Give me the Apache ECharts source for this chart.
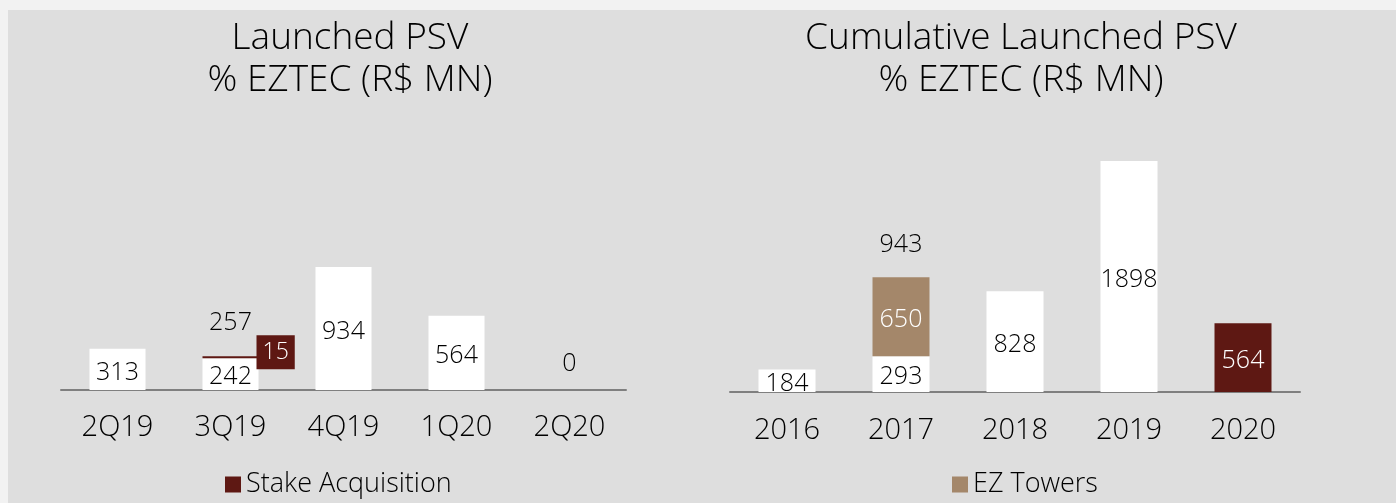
<!DOCTYPE html>
<html>
<head>
<meta charset="utf-8">
<script src="https://cdn.jsdelivr.net/npm/echarts@6/dist/echarts.min.js"></script>
<style>
  html, body { margin: 0; padding: 0; background: #f2f2f2; }
  #chart { width: 1396px; height: 503px; }
</style>
</head>
<body>
<div id="chart"></div>
<script>
// ---- Data ----
const quarterCats = ['2Q19', '3Q19', '4Q19', '1Q20', '2Q20'];
const quarterBase = [313, 242, 934, 564, 0];
const quarterStake = [null, 15, null, null, null];
const quarterTotal = [null, 257, null, null, null];

const yearCats = ['2016', '2017', '2018', '2019', '2020'];
const yearBase = [184, 293, 828, 1898, 564];
const yearTowers = [null, 650, null, null, null];
const yearTotal = [null, 943, null, null, null];

const leftTitle = 'Launched PSV\n% EZTEC (R$ MN)';
const rightTitle = 'Cumulative Launched PSV\n% EZTEC (R$ MN)';

// ---- Styles ----
const FONT = '"Open Sans", Lato';
const WEIGHT = 300;
const MAROON = '#5e1813';
const TAN = '#a4876a';
const WHITE = '#ffffff';

const chart = echarts.init(document.getElementById('chart'), null, { renderer: 'canvas' });

const insideLabel = (color) => ({
  show: true, position: 'inside', color: color, fontFamily: FONT, fontWeight: WEIGHT, fontSize: 25, offset: [0, 3]
});

const titleStyle = { fontFamily: FONT, fontSize: 37, fontWeight: WEIGHT, color: '#000', lineHeight: 42 };

const option = {
  backgroundColor: '#f2f2f2',
  animation: false,
  graphic: [{
    type: 'rect', z: -10, silent: true,
    shape: { x: 8, y: 10, width: 1388, height: 493 },
    style: { fill: '#dedede' }
  }],
  title: [
    { text: leftTitle, left: 350, top: 17, textAlign: 'center', padding: 0, textStyle: titleStyle },
    { text: rightTitle, left: 1021, top: 17, textAlign: 'center', padding: 0, textStyle: titleStyle }
  ],
  legend: [
    { data: ['Stake Acquisition'], left: 225, top: 471, padding: 0, icon: 'rect', itemWidth: 16, itemHeight: 16,
      itemGap: 5, textStyle: { fontFamily: FONT, fontWeight: WEIGHT, fontSize: 27, color: '#000' } },
    { data: ['EZ Towers'], left: 952, top: 471, padding: 0, icon: 'rect', itemWidth: 16, itemHeight: 16,
      itemGap: 5, textStyle: { fontFamily: FONT, fontWeight: WEIGHT, fontSize: 27, color: '#000' } }
  ],
  grid: [
    { left: 61, width: 565, top: 390 - 263.4, height: 263.4 },
    { left: 730, width: 570, top: 392 - 243.4, height: 243.4 }
  ],
  xAxis: [
    { type: 'category', gridIndex: 0, data: quarterCats,
      axisLine: { lineStyle: { color: '#7f7f7f', width: 2 } }, axisTick: { show: false },
      axisLabel: { margin: 23, fontFamily: FONT, fontWeight: WEIGHT, fontSize: 29, color: '#000' } },
    { type: 'category', gridIndex: 1, data: yearCats,
      axisLine: { lineStyle: { color: '#7f7f7f', width: 2 } }, axisTick: { show: false },
      axisLabel: { margin: 24, fontFamily: FONT, fontWeight: WEIGHT, fontSize: 29, color: '#000' } }
  ],
  yAxis: [
    { type: 'value', gridIndex: 0, min: 0, max: 2000, show: false },
    { type: 'value', gridIndex: 1, min: 0, max: 2000, show: false }
  ],
  series: [
    { name: 'Base Q', type: 'bar', xAxisIndex: 0, yAxisIndex: 0, stack: 'q', barWidth: 56,
      itemStyle: { color: WHITE },
      label: insideLabel('#000'),
      data: quarterBase.map((v) => v === 0
        ? { value: v, label: { position: 'top', distance: 14, offset: [0, 0] } }
        : v) },
    { name: 'Stake Acquisition', type: 'bar', xAxisIndex: 0, yAxisIndex: 0, stack: 'q', barWidth: 56,
      itemStyle: { color: MAROON },
      label: { show: true, position: 'right', distance: -2, offset: [0, -5], color: '#fff',
        fontFamily: FONT, fontWeight: WEIGHT, fontSize: 23, lineHeight: 22, backgroundColor: MAROON, padding: [6, 6] },
      data: quarterStake },
    { name: 'Total Q', type: 'bar', xAxisIndex: 0, yAxisIndex: 0, barWidth: 56, barGap: '-100%',
      itemStyle: { color: 'rgba(0,0,0,0)' }, silent: true,
      label: { show: true, position: 'top', distance: 21, color: '#000', fontFamily: FONT, fontWeight: WEIGHT, fontSize: 25 },
      data: quarterTotal },

    { name: 'Base Y', type: 'bar', xAxisIndex: 1, yAxisIndex: 1, stack: 'y', barWidth: 57,
      itemStyle: { color: WHITE },
      label: insideLabel('#000'),
      data: yearBase.map((v, i) => i === yearBase.length - 1
        ? { value: v, itemStyle: { color: MAROON }, label: { color: '#fff' } }
        : v) },
    { name: 'EZ Towers', type: 'bar', xAxisIndex: 1, yAxisIndex: 1, stack: 'y', barWidth: 57,
      itemStyle: { color: TAN },
      label: insideLabel('#fff'),
      data: yearTowers },
    { name: 'Total Y', type: 'bar', xAxisIndex: 1, yAxisIndex: 1, barWidth: 57, barGap: '-100%',
      itemStyle: { color: 'rgba(0,0,0,0)' }, silent: true,
      label: { show: true, position: 'top', distance: 20, color: '#000', fontFamily: FONT, fontWeight: WEIGHT, fontSize: 25 },
      data: yearTotal }
  ]
};
chart.setOption(option);
</script>
</body>
</html>
